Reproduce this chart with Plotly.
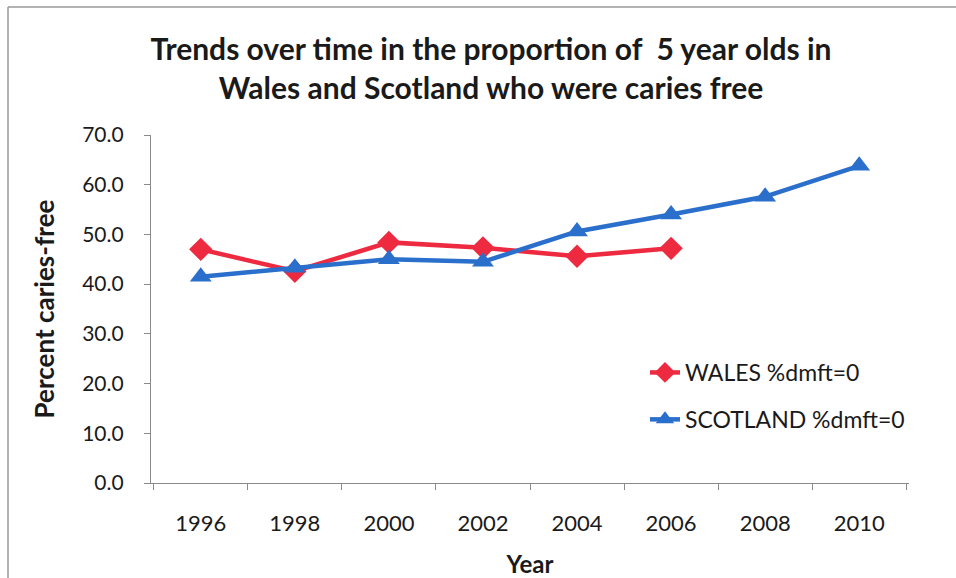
import plotly.graph_objects as go

years = ["1996", "1998", "2000", "2002", "2004", "2006", "2008", "2010"]
wales_years = ["1996", "1998", "2000", "2002", "2004", "2006"]
wales = [47.0, 42.6, 48.4, 47.3, 45.6, 47.2]
scotland = [41.5, 43.3, 45.0, 44.5, 50.6, 54.0, 57.6, 63.8]

FONT = "Lato"
W, H = 956, 578
L, R, T, B = 151, 47, 135, 95
pw, ph = W - L - R, H - T - B

def px(x):
    return (x - L) / pw

def py(y):
    return (H - B - y) / ph

fig = go.Figure()
fig.add_trace(go.Scatter(
    x=wales_years, y=wales, mode="lines+markers", name="WALES %dmft=0",
    legendgroup="w",
    line=dict(color="#EE2A40", width=4.5),
    marker=dict(symbol="diamond", size=18, color="#EE2A40"),
))
fig.add_trace(go.Scatter(
    x=years, y=scotland, mode="lines+markers", name="SCOTLAND %dmft=0",
    legendgroup="s",
    line=dict(color="#2A6FCB", width=4.5),
    marker=dict(symbol="triangle-up", size=19, color="#2A6FCB"),
))

fig.update_layout(
    width=W, height=H,
    margin=dict(l=L, r=R, t=T, b=B),
    paper_bgcolor="white", plot_bgcolor="white",
    font=dict(family=FONT, color="#1a1a1a"),
    title=dict(
        text="Trends over time in the proportion of  5 year olds in<br>Wales and Scotland who were caries free",
        x=px(491), xanchor="center", xref="paper",
        y=1 - 60 / H, yanchor="middle", yref="container",
        font=dict(family=FONT, size=30, color="#1a1a1a", weight="bold"),
    ),
    xaxis=dict(
        type="category", categoryorder="array", categoryarray=years,
        tickson="boundaries", ticks="outside", ticklen=6, tickcolor="#8a8a8a",
        showline=True, linecolor="#8a8a8a", linewidth=1.2,
        showgrid=False, zeroline=False, automargin=False,
        tickfont=dict(family=FONT, size=22),
        ticklabelstandoff=20,
        title=dict(text="Year", font=dict(family=FONT, size=24, weight="bold"), standoff=24),
    ),
    yaxis=dict(
        range=[0, 70], dtick=10, tickformat=".1f",
        ticks="outside", ticklen=6, tickcolor="#8a8a8a",
        showline=True, linecolor="#8a8a8a", linewidth=1.2,
        showgrid=False, zeroline=False, automargin=False,
        tickfont=dict(family=FONT, size=21),
        ticklabelstandoff=16,
        title=dict(text="Percent caries-free", font=dict(family=FONT, size=26, weight="bold"), standoff=20),
    ),
    legend=dict(
        x=px(645), y=py(351), xanchor="left", yanchor="top",
        traceorder="grouped", tracegroupgap=14,
        font=dict(family=FONT, size=23),
        bgcolor="rgba(0,0,0,0)",
    ),
    shapes=[
        dict(type="line", xref="paper", yref="paper",
             x0=px(8), x1=px(960), y0=py(7), y1=py(7),
             line=dict(color="#9a9a9a", width=1.5)),
        dict(type="line", xref="paper", yref="paper",
             x0=px(8), x1=px(8), y0=py(7), y1=py(582),
             line=dict(color="#9a9a9a", width=1.5)),
    ],
)

fig.write_html("out.html")
